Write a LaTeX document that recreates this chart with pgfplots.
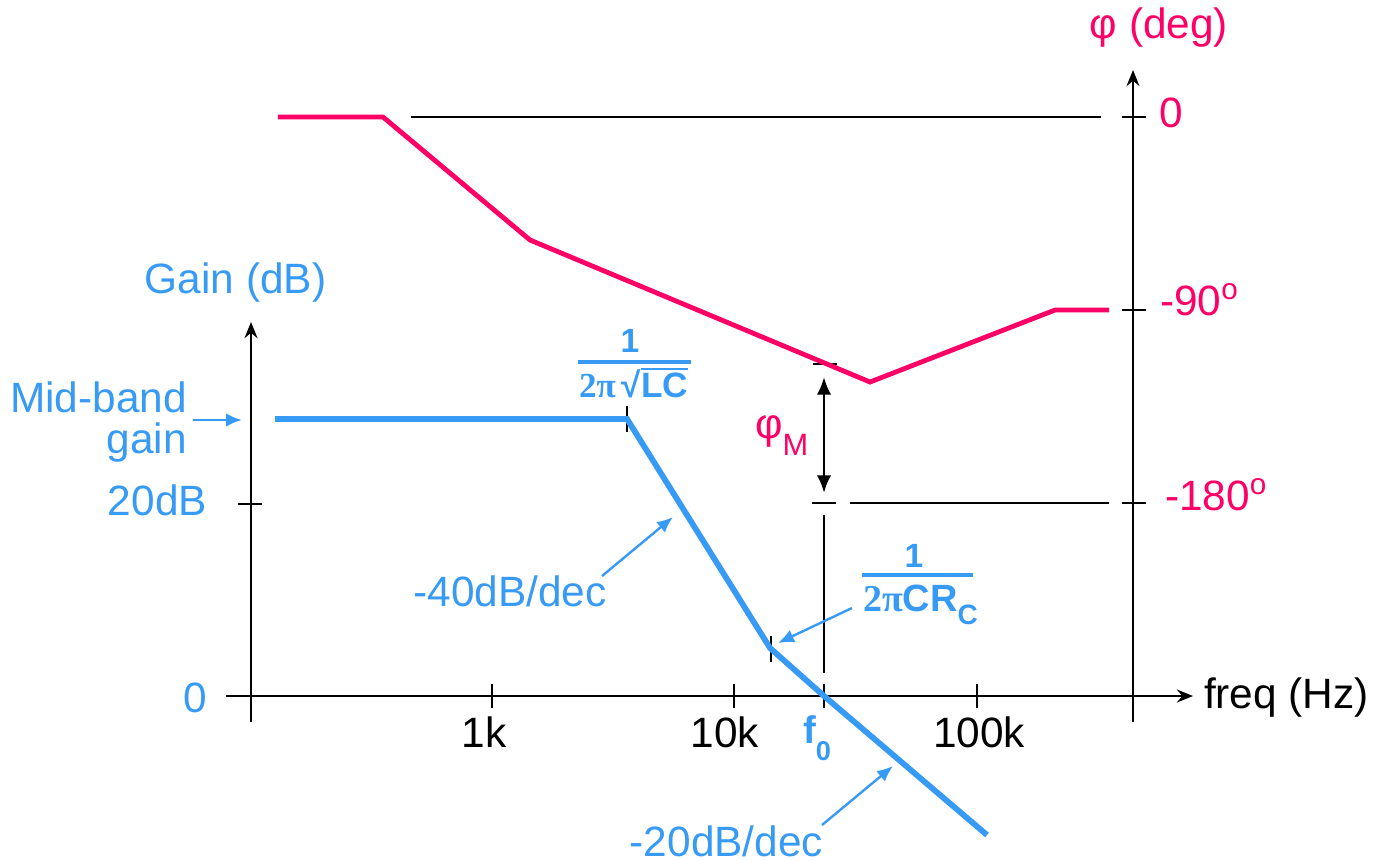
\documentclass[border=0pt]{standalone}
\usepackage{fontspec}
\setmainfont{Liberation Sans}
\newfontfamily\seriffont{Liberation Serif}
\usepackage{pgfplots}
\pgfplotsset{compat=1.18}
\usetikzlibrary{arrows.meta}
\definecolor{gblue}{RGB}{55,155,245}
\definecolor{ppink}{RGB}{255,0,102}

\begin{document}
\begin{tikzpicture}[font=\fontsize{10.6}{12.7}\selectfont, every node/.style={inner sep=0pt, outer sep=0pt}]
% ---------- black axes and guides (pixel frame: 1 px = 0.25pt, origin top-left) ----------
\begin{scope}[shift={(0,215pt)}, x=0.25pt, y=-0.25pt, line width=0.7pt]
  \path (0,0) rectangle (1378,860);
  % gain axis
  \draw[-{Stealth[length=4pt,width=3.2pt]}] (251,722) -- (251,322);
  \draw (238,504) -- (262,504);
  % frequency axis
  \draw[-{Stealth[length=4pt,width=3.2pt]}] (226,696) -- (1193,696);
  \foreach \xx in {492,734,824,977} \draw (\xx,684) -- (\xx,708);
  % phase axis
  \draw[-{Stealth[length=4pt,width=3.2pt]}] (1133,722) -- (1133,70);
  \foreach \yy in {117,310,503} \draw (1122,\yy) -- (1146,\yy);
  % phase reference lines
  \draw (411,117) -- (1101,117);
  \draw (812,503) -- (836,503);
  \draw (850,503) -- (1109,503);
  % f0 line
  \draw (824,515) -- (824,673);
  % phase margin
  \draw (813,364) -- (837,364);
  \draw[{Latex[length=4.4pt,width=3.6pt]}-{Latex[length=4.4pt,width=3.6pt]}] (824,377) -- (824,493);
  % break-point ticks
  \draw (627,406) -- (627,432);
  \draw (771,636) -- (771,662);
\end{scope}

% ---------- gain (dB) ----------
\begin{axis}[name=g, at={(0,0)}, anchor=south west, scale only axis,
  width=344.5pt, height=215pt, xmode=log, xmin=9.267, xmax=4583100,
  ymin=-17.083, ymax=72.5, hide axis, clip=false]
\addplot[gblue, line width=1.45pt] coordinates {
  (126.87,28.854) (3614,28.854) (14085,5.0) (23546,0) (111030,-14.479)};
\end{axis}

% ---------- phase (deg) ----------
\begin{axis}[at={(0,0)}, anchor=south west, scale only axis,
  width=344.5pt, height=215pt, xmode=log, xmin=9.267, xmax=4583100,
  ymin=-346.47, ymax=54.56, hide axis, clip=false]
\addplot[ppink, line width=1.2pt] coordinates {
  (130.5,0) (354.4,0) (1435.6,-57.36) (36478,-123.58) (212130,-90) (354400,-90)};
\end{axis}

% ---------- labels and annotations ----------
\begin{scope}[shift={(0,215pt)}, x=0.25pt, y=-0.25pt]
  % left axis
  \node[gblue, anchor=base] at (235.5,293) {Gain (dB)};
  \node[gblue, anchor=base east] at (187,412) {Mid-band};
  \node[gblue, anchor=base east] at (187,453) {gain};
  \draw[gblue, line width=0.6pt, -{Latex[length=4pt,width=3.4pt]}] (193,420) -- (242,420);
  \node[gblue, anchor=base east] at (207,515) {20dB};
  \node[gblue, anchor=base east] at (207,712) {0};
  % right axis
  \node[ppink, anchor=base] at (1159,38) {φ (deg)};
  \node[ppink, anchor=base west] at (1159,127) {0};
  \node[ppink, anchor=base west] at (1160,315) {-90\textsuperscript{o}};
  \node[ppink, anchor=base west] at (1165,510) {-180\textsuperscript{o}};
  % frequency axis
  \node[anchor=base west] at (1204,708) {freq (Hz)};
  \node[anchor=base] at (484,747) {1k};
  \node[anchor=base] at (725,747) {10k};
  \node[anchor=base] at (979,747) {100k};
  \node[gblue, anchor=base west, font=\fontsize{9.6}{11}\selectfont\bfseries] at (803,743)
     {f\raisebox{-4.25pt}{\fontsize{6.8}{8}\selectfont 0}};
  % phase margin label
  \node[ppink, anchor=base west] at (755,438) {φ\raisebox{-4.25pt}{\fontsize{7.7}{8}\selectfont M}};
  % slope labels
  \node[gblue, anchor=base] at (510,606) {-40dB/dec};
  \draw[gblue, line width=0.6pt, -{Latex[length=4pt,width=3.4pt]}] (602,576) -- (673,517);
  \node[gblue, anchor=base] at (726.5,856) {-20dB/dec};
  \draw[gblue, line width=0.6pt, -{Latex[length=4pt,width=3.4pt]}] (822,825) -- (893,766);
  % 1/(2 pi sqrt(LC))
  \node[gblue, anchor=base, font=\fontsize{8.4}{10}\selectfont\bfseries] at (630,352) {1};
  \draw[gblue, line width=0.8pt] (578,362) -- (691,362);
  \node[gblue, anchor=base west, font=\fontsize{8.8}{10}\selectfont\bfseries] at (579,397)
     {{\seriffont 2π}\,√\vbox{\hrule height 0.7pt\kern 0.5pt\hbox{LC}}};
  % 1/(2 pi C R_C)
  \node[gblue, anchor=base, font=\fontsize{8.4}{10}\selectfont\bfseries] at (914,567) {1};
  \draw[gblue, line width=0.8pt] (862,575) -- (973,575);
  \node[gblue, anchor=base west, font=\fontsize{9.5}{11}\selectfont\bfseries] at (863,611)
     {{\seriffont 2π}CR\raisebox{-3.25pt}{\fontsize{7}{8}\selectfont C}};
  \draw[gblue, line width=0.6pt, -{Latex[length=4pt,width=3.4pt]}] (852,608) -- (778,643);
\end{scope}
\end{tikzpicture}
\end{document}
